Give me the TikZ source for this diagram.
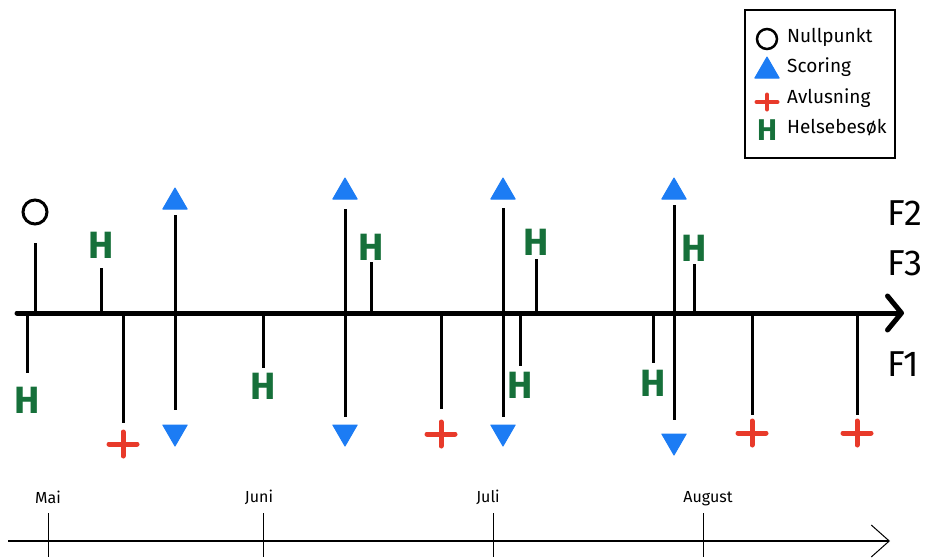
\documentclass[tikz,border=0pt]{standalone}
\usepackage{fontspec}
\setmainfont{Fira Sans}
\usetikzlibrary{arrows.meta,shapes.geometric}

\definecolor{scoreblue}{RGB}{28,124,244}
\definecolor{liceRed}{RGB}{232,58,42}
\definecolor{visitgreen}{RGB}{22,112,58}

\tikzset{
  axisline/.style={line width=5pt, line cap=round,
    -{Straight Barb[length=14pt,width=34pt,line cap=round,line join=round]}},
  stem/.style={line width=3pt},
  timeline/.style={line width=1.6pt,
    -{Straight Barb[length=18pt,width=32pt,line width=1pt]}},
  monthtick/.style={line width=1pt},
  monthlabel/.style={font=\fontsize{16}{16}\selectfont, inner sep=0pt},
  flabel/.style={font=\fontsize{36}{36}\selectfont, inner sep=0pt, anchor=west},
  hmark/.style={text=visitgreen, font=\fontsize{38}{38}\selectfont\bfseries, inner sep=0pt},
  nullmark/.style={circle, draw, line width=3pt, minimum size=24pt, inner sep=0pt},
  upmark/.style={regular polygon, regular polygon sides=3, fill=scoreblue,
    draw=scoreblue, line width=1pt, line join=round, minimum size=28pt, inner sep=0pt},
  downmark/.style={upmark, regular polygon rotate=180},
  plusmark/.style={minimum width=34pt, minimum height=30pt, inner sep=0pt,
    path picture={\draw[liceRed, line width=5pt, line cap=round]
      ([xshift=3pt]path picture bounding box.west) -- ([xshift=-3pt]path picture bounding box.east)
      ([yshift=-3pt]path picture bounding box.north) -- ([yshift=3pt]path picture bounding box.south);}},
  legendplus/.style={minimum width=26pt, minimum height=20pt, inner sep=0pt,
    path picture={\draw[liceRed, line width=4pt, line cap=round]
      ([xshift=2.5pt]path picture bounding box.west) -- ([xshift=-2.5pt]path picture bounding box.east)
      ([yshift=-2.5pt]path picture bounding box.north) -- ([yshift=2.5pt]path picture bounding box.south);}},
  legendtext/.style={font=\fontsize{19}{19}\selectfont, inner sep=0pt, anchor=mid west},
}

\begin{document}
\begin{tikzpicture}[x=1pt,y=-1pt]
\useasboundingbox (0,0) rectangle (933,557);

% ---- stems above the axis (zero point and health visits) ----
\foreach \n/\x/\y in {null/35/243, ha1/101/268, ha2/371/262, ha3/536/259, ha4/694/264} {
  \coordinate (\n-a) at (\x,313);
  \coordinate (\n-b) at (\x,\y);
  \draw[stem] (\n-a) -- (\n-b);
}
% ---- stems below the axis (health visits and delousing) ----
\foreach \n/\x/\y in {hb1/27/373, hb2/263/368, hb3/520/366, hb4/653/363,
                      p1/123/423, p2/441/409, p3/752/415, p4/857/415} {
  \coordinate (\n-a) at (\x,313);
  \coordinate (\n-b) at (\x,\y);
  \draw[stem] (\n-a) -- (\n-b);
}
% ---- scoring stems crossing the axis ----
\foreach \n/\x/\t/\b in {s1/175/215/410, s2/345/209/417, s3/503/208/417, s4/674/205/420} {
  \coordinate (\n-t) at (\x,\t);
  \coordinate (\n-b) at (\x,\b);
  \draw[stem] (\n-t) -- (\n-b);
}

% ---- main axis ----
\coordinate (ax0) at (17,313);
\coordinate (ax1) at (904,313);
\draw[axisline] (ax0) -- (ax1);

% ---- markers ----
\node[nullmark] (nullpt) at (35,212) {};

\node[hmark] (hA1) at (101,245) {H};
\node[hmark] (hA2) at (371,247) {H};
\node[hmark] (hA3) at (536,242) {H};
\node[hmark] (hA4) at (694,248) {H};
\node[hmark] (hB1) at (27,400) {H};
\node[hmark] (hB2) at (263,386) {H};
\node[hmark] (hB3) at (520,385) {H};
\node[hmark] (hB4) at (653,383) {H};

\node[upmark]   (sU1) at (175,202) {};
\node[upmark]   (sU2) at (345,192) {};
\node[upmark]   (sU3) at (503,192) {};
\node[upmark]   (sU4) at (674,192) {};
\node[downmark] (sD1) at (175,432) {};
\node[downmark] (sD2) at (345,432) {};
\node[downmark] (sD3) at (503,432) {};
\node[downmark] (sD4) at (674,441) {};

\node[plusmark] (pl1) at (123,444) {};
\node[plusmark] (pl2) at (441,434) {};
\node[plusmark] (pl3) at (752,433) {};
\node[plusmark] (pl4) at (857,433) {};

% ---- row labels ----
\node[flabel] (f2) at (887,213) {F2};
\node[flabel] (f3) at (887,263) {F3};
\node[flabel] (f1) at (887,364) {F1};

% ---- legend ----
\node[draw, line width=2pt, minimum width=150pt, minimum height=148pt, inner sep=0pt] (legend) at (820,84) {};
\node[circle, draw, line width=2.5pt, minimum size=20pt, inner sep=0pt] (lgNull) at (767,39) {};
\node[upmark, minimum size=28pt] (lgScore) at (767,71) {};
\node[legendplus] (lgPlus) at (767,102) {};
\node[hmark, font=\fontsize{30}{30}\selectfont\bfseries] (lgH) at (767,130) {H};
\node[legendtext] (lgT1) at (787,40) {Nullpunkt};
\node[legendtext] (lgT2) at (787,70) {Scoring};
\node[legendtext] (lgT3) at (787,101) {Avlusning};
\node[legendtext] (lgT4) at (787,131) {Helsebesøk};

% ---- calendar timeline ----
\coordinate (tl0) at (8,541);
\coordinate (tl1) at (890,541);
\draw[timeline] (tl0) -- (tl1);
\foreach \n/\x in {mai/48, juni/263, juli/493, aug/703} {
  \coordinate (\n-t) at (\x,513);
  \coordinate (\n-b) at (\x,557);
  \draw[monthtick] (\n-t) -- (\n-b);
}
\node[monthlabel] (lbMai)  at (48,497)  {Mai};
\node[monthlabel] (lbJuni) at (259,497) {Juni};
\node[monthlabel] (lbJuli) at (488,497) {Juli};
\node[monthlabel] (lbAug)  at (708,499) {August};
\end{tikzpicture}
\end{document}
